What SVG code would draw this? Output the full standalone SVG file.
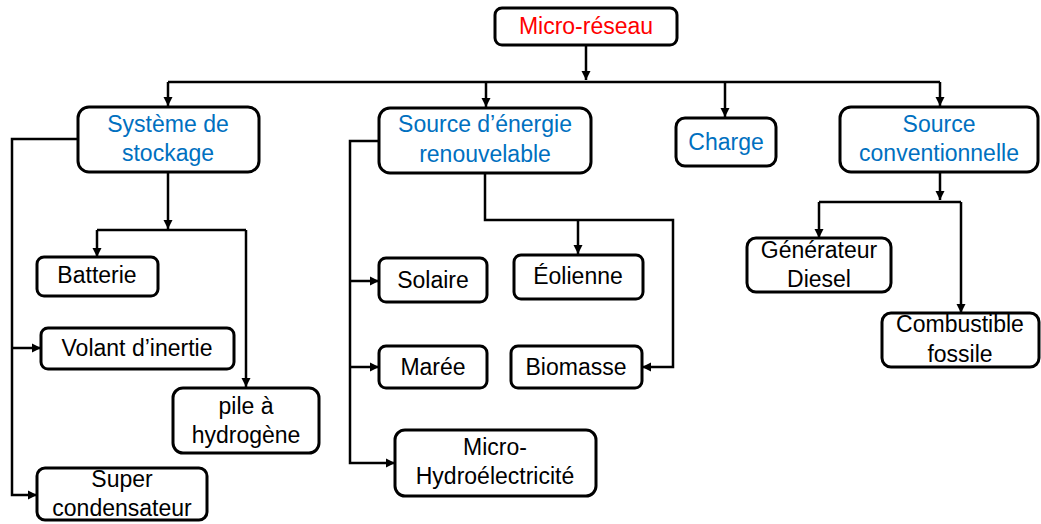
<svg xmlns="http://www.w3.org/2000/svg" width="1041" height="524" viewBox="0 0 1041 524">
<defs>
<marker id="ah" markerUnits="userSpaceOnUse" markerWidth="10" markerHeight="10" refX="9" refY="5" orient="auto">
<path d="M0,0.5 L9,5 L0,9.5 Z" fill="#000"/>
</marker>
<style>
.box{fill:#fff;stroke:#000;stroke-width:3}
.t{font-family:"Liberation Sans",Arial,sans-serif;font-size:23px;text-anchor:middle;fill:#000}
.b{fill:#0070C0}
.r{fill:#FF0000}
.c{fill:none;stroke:#000;stroke-width:2.5}
.a{marker-end:url(#ah)}
</style>
</defs>
<rect width="1041" height="524" fill="#fff"/>
<g id="connectors">
<path class="c a" d="M586,45 V80"/>
<path class="c" d="M168,82 H940"/>
<path class="c a" d="M168,82 V106"/>
<path class="c a" d="M486,82 V107"/>
<path class="c a" d="M725,82 V117"/>
<path class="c a" d="M940,82 V106"/>
<path class="c a" d="M78,139 H12 V495 H37"/>
<path class="c a" d="M12,348 H41"/>
<path class="c a" d="M168,172 V229"/>
<path class="c" d="M97,230 H246"/>
<path class="c a" d="M97,230 V257"/>
<path class="c a" d="M246,230 V387"/>
<path class="c a" d="M379,141 H350 V463 H395"/>
<path class="c a" d="M350,281 H379"/>
<path class="c a" d="M350,367 H379"/>
<path class="c a" d="M485,173 V220 H673 V367 H642"/>
<path class="c a" d="M578,220 V254"/>
<path class="c a" d="M940,172 V200"/>
<path class="c" d="M819,202 H961"/>
<path class="c a" d="M961,202 V313"/>
<path class="c a" d="M819,202 V238"/>
</g>
<g id="micro-reseau">
<rect class="box" x="495" y="8" width="182" height="37" rx="7"/>
<text class="t r" x="586" y="34">Micro-réseau</text>
</g>
<g id="systeme-stockage">
<rect class="box" x="78" y="107" width="181" height="65" rx="11"/>
<text class="t b" x="168" y="132">Système de</text>
<text class="t b" x="168" y="161">stockage</text>
</g>
<g id="source-renouvelable">
<rect class="box" x="379" y="108" width="212" height="65" rx="11"/>
<text class="t b" x="485" y="132">Source d’énergie</text>
<text class="t b" x="485" y="162">renouvelable</text>
</g>
<g id="charge">
<rect class="box" x="676" y="118" width="100" height="48" rx="9"/>
<text class="t b" x="726" y="150">Charge</text>
</g>
<g id="source-conventionnelle">
<rect class="box" x="840" y="107" width="198" height="65" rx="11"/>
<text class="t b" x="939" y="132">Source</text>
<text class="t b" x="939" y="161">conventionnelle</text>
</g>
<g id="batterie">
<rect class="box" x="37" y="257" width="121" height="39" rx="7"/>
<text class="t" x="97" y="283">Batterie</text>
</g>
<g id="volant">
<rect class="box" x="41" y="328" width="193" height="41" rx="7"/>
<text class="t" x="137" y="356">Volant d’inertie</text>
</g>
<g id="pile">
<rect class="box" x="173" y="388" width="146" height="65" rx="10"/>
<text class="t" x="246" y="414">pile à</text>
<text class="t" x="246" y="443">hydrogène</text>
</g>
<g id="super">
<rect class="box" x="37" y="468" width="170" height="52" rx="8"/>
<text class="t" x="122" y="487">Super</text>
<text class="t" x="122" y="516">condensateur</text>
</g>
<g id="solaire">
<rect class="box" x="379" y="258" width="108" height="44" rx="7"/>
<text class="t" x="433" y="288">Solaire</text>
</g>
<g id="eolienne">
<rect class="box" x="514" y="255" width="129" height="44" rx="7"/>
<text class="t" x="578" y="284">Éolienne</text>
</g>
<g id="maree">
<rect class="box" x="379" y="346" width="108" height="42" rx="7"/>
<text class="t" x="433" y="375">Marée</text>
</g>
<g id="biomasse">
<rect class="box" x="511" y="346" width="131" height="42" rx="7"/>
<text class="t" x="576" y="375">Biomasse</text>
</g>
<g id="micro-hydro">
<rect class="box" x="395" y="430" width="201" height="66" rx="10"/>
<text class="t" x="495" y="455">Micro-</text>
<text class="t" x="495" y="484">Hydroélectricité</text>
</g>
<g id="generateur">
<rect class="box" x="747" y="238" width="144" height="54" rx="9"/>
<text class="t" x="819" y="258">Générateur</text>
<text class="t" x="819" y="287">Diesel</text>
</g>
<g id="combustible">
<rect class="box" x="882" y="313" width="157" height="54" rx="9"/>
<text class="t" x="960" y="332">Combustible</text>
<text class="t" x="960" y="362">fossile</text>
</g>
</svg>
